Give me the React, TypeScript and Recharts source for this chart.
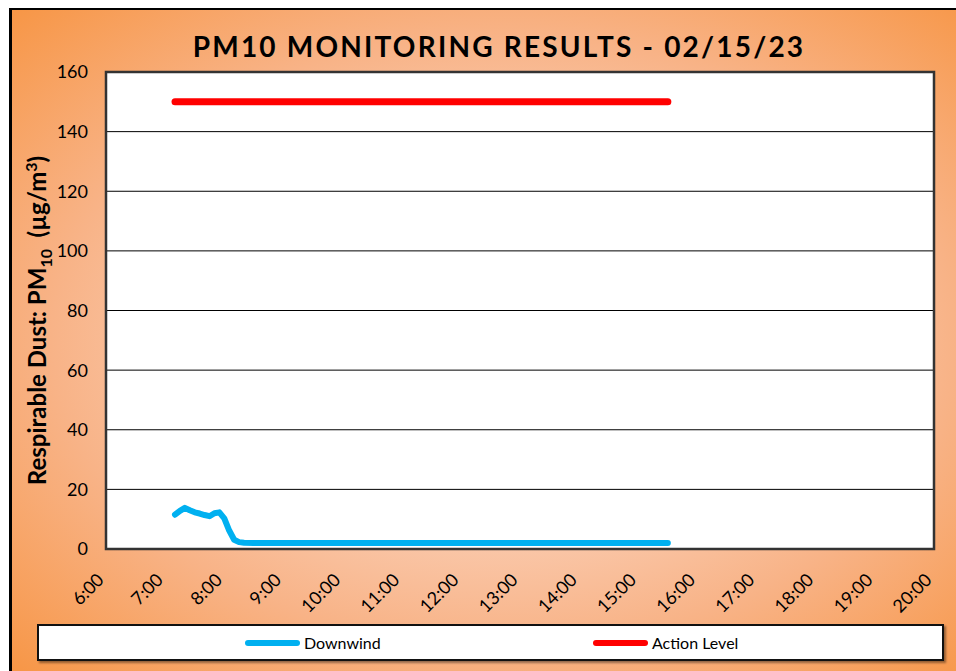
import React from 'react';
import { LineChart, Line, XAxis, YAxis, CartesianGrid, ReferenceArea, Legend } from 'recharts';

// readings (hh:mm, µg/m3)
const downwindTimes = [
  '7:10', '7:15', '7:20', '7:25', '7:30', '7:35', '7:40', '7:45', '7:50', '7:55',
  '8:00', '8:05', '8:10', '8:15', '8:20', '8:30', '9:00', '9:30', '10:00', '10:30',
  '11:00', '11:30', '12:00', '12:30', '13:00', '13:30', '14:00', '14:30', '15:00', '15:30'
];
const downwindValues = [
  11.5, 12.8, 13.8, 13.0, 12.3, 11.9, 11.4, 11.0, 12.0, 12.3,
  10.3, 6.2, 3.1, 2.3, 2.1, 2, 2, 2, 2, 2,
  2, 2, 2, 2, 2, 2, 2, 2, 2, 2
];
const actionTimes = ['7:10', '15:30'];
const actionValues = [150, 150];

const hourLabels = [
  '6:00', '7:00', '8:00', '9:00', '10:00', '11:00', '12:00', '13:00',
  '14:00', '15:00', '16:00', '17:00', '18:00', '19:00', '20:00'
];
const yTicks = [0, 20, 40, 60, 80, 100, 120, 140, 160];

const seriesNames = ['Downwind', 'Action Level'];
const seriesColors = ['#00b0f0', '#ff0000'];

const FONT = 'Lato, "Open Sans", sans-serif';

const toMin = (s: string) => {
  const [h, m] = s.split(':').map(Number);
  return h * 60 + m;
};
const fmtMin = (v: number) => `${Math.floor(v / 60)}:${String(v % 60).padStart(2, '0')}`;

const downwind = downwindTimes.map((t, i) => ({ t: toMin(t), v: downwindValues[i] }));
const action = actionTimes.map((t, i) => ({ t: toMin(t), v: actionValues[i] }));
const xTicks = hourLabels.map(toMin);

const HourTick = (props: any) => {
  const { x, y, payload } = props;
  const px = x - 1;
  const py = y + 24;
  return (
    <text x={px} y={py} transform={`rotate(-45 ${px} ${py})`} textAnchor="end"
      fontFamily={FONT} fontSize={18} fill="#000">
      {fmtMin(payload.value)}
    </text>
  );
};

const YTitle = (props: any) => {
  const vb = props.viewBox || { y: 62, height: 477 };
  const cx = 34;
  const cy = vb.y + vb.height / 2 + 10;
  return (
    <text x={cx} y={cy} transform={`rotate(-90 ${cx} ${cy})`} textAnchor="middle"
      fontFamily={FONT} fontWeight={700} fontSize={24} fill="#000">
      Respirable Dust: PM
      <tspan dy={6} fontSize={16}>10</tspan>
      <tspan dy={-6}>{'\u00a0\u00a0(µg/m'}</tspan>
      <tspan dy={-9} fontSize={16}>3</tspan>
      <tspan dy={9}>)</tspan>
    </text>
  );
};

const LegendBox = () => (
  <div style={{
    position: 'relative', width: 907, height: 37, boxSizing: 'border-box',
    border: '2px solid #111', background: '#fff', boxShadow: '2px 2px 2px rgba(0,0,0,0.4)'
  }}>
    {seriesNames.map((name, i) => (
      <div key={name} style={{
        position: 'absolute', left: i === 0 ? 206 : 554, top: 0, height: 33,
        display: 'flex', alignItems: 'center'
      }}>
        <span style={{ display: 'inline-block', width: 55, height: 6, borderRadius: 3, background: seriesColors[i] }} />
        <span style={{ marginLeft: 4, fontFamily: FONT, fontSize: 16, color: '#000' }}>{name}</span>
      </div>
    ))}
  </div>
);

export default function App() {
  return (
    <div style={{
      position: 'absolute', left: 9, top: 8, width: 947, height: 663, boxSizing: 'border-box',
      borderLeft: '3px solid #000', borderTop: '2px solid #000', overflow: 'hidden',
      background: 'radial-gradient(ellipse at 52% 50%, #fde8dd 0%, #fbd3bd 30%, #f8b387 65%, #f79646 100%)'
    }}>
      <div style={{
        position: 'absolute', left: 87, top: 22, width: 800, textAlign: 'center',
        fontFamily: FONT, fontWeight: 700, fontSize: 28, lineHeight: '28px', letterSpacing: 2.2, color: '#000'
      }}>
        PM10 MONITORING RESULTS - 02/15/23
      </div>
      <LineChart width={944} height={661} margin={{ top: 62, right: 22, left: 0, bottom: 62 }}>
        <CartesianGrid vertical={false} stroke="#000" strokeWidth={1} fill="#fff" fillOpacity={1} />
        <XAxis dataKey="t" type="number" domain={[360, 1200]} ticks={xTicks} interval={0}
          tickLine={false} axisLine={false} height={60} tick={<HourTick />} />
        <YAxis type="number" domain={[0, 160]} ticks={yTicks} width={94} tickLine={false} axisLine={false}
          tickMargin={12} tick={{ fontFamily: FONT, fontSize: 18, fill: '#000' }}
          label={{ content: <YTitle /> }} />
        <Line data={action} dataKey="v" name={seriesNames[1]} stroke={seriesColors[1]} strokeWidth={7}
          strokeLinecap="round" dot={false} isAnimationActive={false} />
        <Line data={downwind} dataKey="v" name={seriesNames[0]} stroke={seriesColors[0]} strokeWidth={6}
          strokeLinecap="round" strokeLinejoin="round" dot={false} isAnimationActive={false} />
        <ReferenceArea x1={360} x2={1200} y1={0} y2={160} fill="none" stroke="#333" strokeWidth={2.5} />
        <Legend layout="horizontal" verticalAlign="middle" align="center" content={<LegendBox />}
          wrapperStyle={{ left: 25, top: 614, width: 907, height: 37 }} />
      </LineChart>
    </div>
  );
}
